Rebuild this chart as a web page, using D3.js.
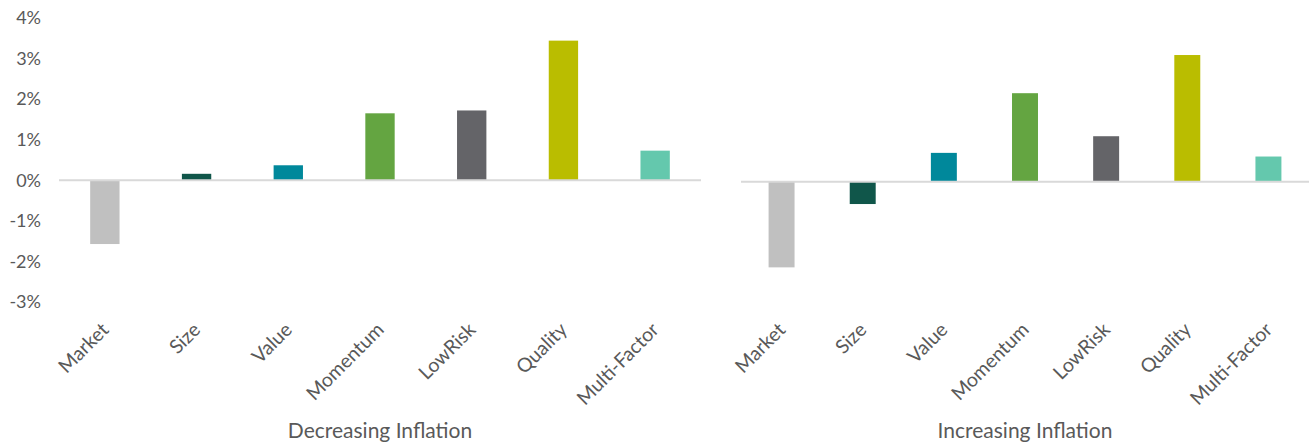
<!DOCTYPE html>
<html>
<head>
<meta charset="utf-8">
<script src="https://cdn.jsdelivr.net/npm/d3@7"></script>
<style>
  body { margin: 0; background: #fff; }
  text { font-family: Lato, "Open Sans", sans-serif; fill: #595959; }
</style>
</head>
<body>
<div class="chart"></div>
<script>
// factor returns by inflation regime (%)
const categories = ["Market", "Size", "Value", "Momentum", "LowRisk", "Quality", "Multi-Factor"];
const decreasing = [-1.57, 0.16, 0.37, 1.65, 1.72, 3.44, 0.73];
const increasing = [-2.11, -0.55, 0.71, 2.18, 1.12, 3.12, 0.62];
const yTicks = [-3, -2, -1, 0, 1, 2, 3, 4];
const panelTitles = ["Decreasing Inflation", "Increasing Inflation"];
const barColors = ["#c0c0c0", "#10564a", "#00889b", "#64a541", "#646468", "#babd00", "#64c8ad"];

function init(){
    createChart(".chart");
}

function createChart(id){
    const width = 1309, height = 444;

    const svg = d3.select(id)
        .append("svg")
        .attr("width", width)
        .attr("height", height);

    // y axis, labels only
    const y = d3.scaleLinear().domain([-3, 4]).range([302.1, 17.9]);
    svg.append("g")
        .attr("transform", "translate(47,0)")
        .call(d3.axisLeft(y).tickValues(yTicks).tickSize(0).tickPadding(6)
            .tickFormat(d => d + "%"))
        .call(g => g.select(".domain").remove())
        .selectAll("text")
        .style("font-size", "18px")
        .style("font-family", "Lato, sans-serif")
        .attr("fill", "#595959");

    const panels = [
        {values: decreasing, x0: 59, x1: 701, dy: 0, title: panelTitles[0]},
        {values: increasing, x0: 741, x1: 1309, dy: 1.4, title: panelTitles[1]}
    ];

    panels.forEach(p => {
        const x = d3.scaleBand()
            .domain(categories)
            .range([p.x0, p.x1])
            .paddingInner(0.68)
            .paddingOuter(0.34);
        const yp = y.copy().range(y.range().map(v => v + p.dy));

        const g = svg.append("g");

        // bars
        g.selectAll("rect")
            .data(p.values)
            .join("rect")
            .attr("x", (d, i) => x(categories[i]))
            .attr("width", x.bandwidth())
            .attr("y", d => yp(Math.max(0, d)))
            .attr("height", d => Math.abs(yp(d) - yp(0)))
            .attr("fill", (d, i) => barColors[i]);

        // zero line
        g.append("line")
            .attr("x1", p.x0).attr("x2", p.x1)
            .attr("y1", yp(0)).attr("y2", yp(0))
            .attr("stroke", "#d9d9d9")
            .attr("stroke-width", 2);

        // category labels
        g.append("g")
            .attr("transform", "translate(0,331)")
            .call(d3.axisBottom(x).tickSize(0))
            .call(a => a.select(".domain").remove())
            .selectAll("text")
            .attr("x", 0).attr("y", 0).attr("dy", 0)
            .attr("transform", "translate(5,0) rotate(-45)")
            .attr("text-anchor", "end")
            .style("font-size", "19.5px")
            .style("font-family", "Lato, sans-serif")
            .attr("fill", "#595959");

        // panel title
        g.append("text")
            .attr("x", (p.x0 + p.x1) / 2)
            .attr("y", 438)
            .attr("text-anchor", "middle")
            .style("font-size", "21px")
            .text(p.title);
    });
}

init();
</script>
</body>
</html>
